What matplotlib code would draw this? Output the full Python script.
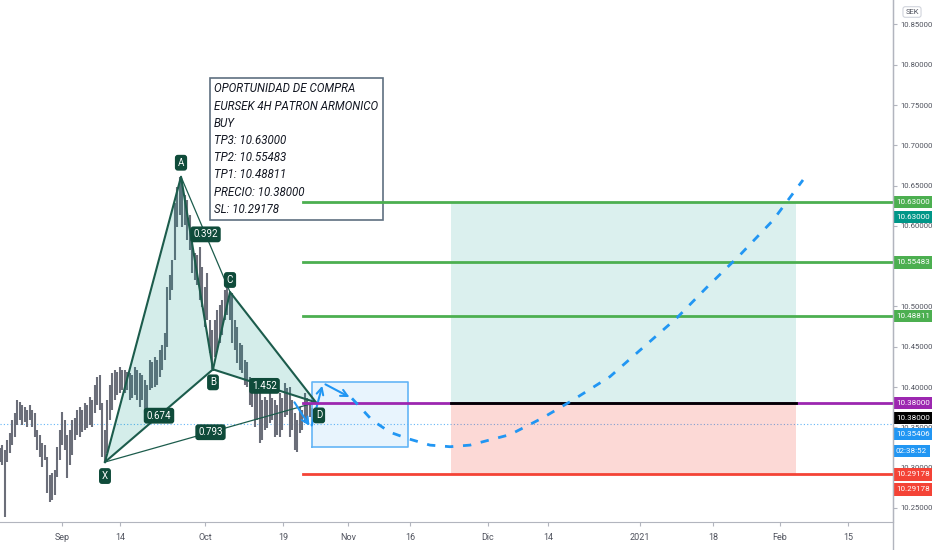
import matplotlib.pyplot as plt
import numpy as np

# EURSEK 4H - velas (maximos y minimos)
bar_hi = [10.324, 10.328, 10.322, 10.334, 10.343, 10.359, 10.368, 10.384, 10.382, 10.378,
          10.375, 10.372, 10.378, 10.372, 10.368, 10.347, 10.341, 10.331, 10.328, 10.313,
          10.291, 10.293, 10.297, 10.326, 10.347, 10.369, 10.359, 10.341, 10.347, 10.359,
          10.362, 10.372, 10.375, 10.372, 10.380, 10.378, 10.388, 10.384, 10.403, 10.413,
          10.415, 10.380, 10.347, 10.384, 10.403, 10.417, 10.421, 10.419, 10.425, 10.421,
          10.421, 10.419, 10.417, 10.415, 10.425, 10.421, 10.417, 10.415, 10.409, 10.403,
          10.434, 10.431, 10.437, 10.434, 10.446, 10.452, 10.467, 10.524, 10.539, 10.558,
          10.628, 10.648, 10.661, 10.657, 10.638, 10.632, 10.614, 10.591, 10.566, 10.564,
          10.574, 10.549, 10.524, 10.542, 10.483, 10.471, 10.483, 10.496, 10.502, 10.508,
          10.520, 10.524, 10.518, 10.517, 10.483, 10.475, 10.455, 10.452, 10.434, 10.431,
          10.413, 10.409, 10.400, 10.396, 10.393, 10.384, 10.388, 10.384, 10.393, 10.386,
          10.384, 10.378, 10.393, 10.386, 10.405, 10.399, 10.400, 10.384, 10.368, 10.359,
          10.375, 10.372, 10.393, 10.386, 10.380, 10.374]
bar_lo = [10.307, 10.303, 10.239, 10.307, 10.318, 10.328, 10.338, 10.353, 10.359, 10.353,
          10.357, 10.350, 10.359, 10.350, 10.338, 10.322, 10.313, 10.301, 10.310, 10.269,
          10.257, 10.260, 10.266, 10.288, 10.310, 10.328, 10.322, 10.287, 10.303, 10.316,
          10.334, 10.341, 10.338, 10.344, 10.347, 10.349, 10.353, 10.350, 10.368, 10.378,
          10.372, 10.313, 10.307, 10.318, 10.359, 10.372, 10.384, 10.390, 10.393, 10.396,
          10.393, 10.396, 10.384, 10.386, 10.390, 10.384, 10.375, 10.384, 10.368, 10.355,
          10.396, 10.399, 10.400, 10.403, 10.413, 10.421, 10.434, 10.450, 10.508, 10.520,
          10.558, 10.599, 10.614, 10.599, 10.601, 10.583, 10.570, 10.542, 10.533, 10.527,
          10.508, 10.499, 10.475, 10.483, 10.442, 10.422, 10.437, 10.446, 10.455, 10.465,
          10.483, 10.489, 10.483, 10.455, 10.446, 10.430, 10.421, 10.417, 10.403, 10.400,
          10.378, 10.375, 10.350, 10.359, 10.331, 10.334, 10.347, 10.349, 10.355, 10.359,
          10.338, 10.341, 10.338, 10.347, 10.363, 10.365, 10.338, 10.347, 10.322, 10.319,
          10.343, 10.347, 10.355, 10.359, 10.363, 10.354]
bar_start = -13.2   # dias desde 1 sep
bar_step = 0.531

# patron armonico XABCD
pat_names = ['X', 'A', 'B', 'C', 'D']
pat_days = [9.13, 25.27, 32.06, 35.67, 53.93]
pat_prices = [10.307, 10.661, 10.422, 10.518, 10.381]
ratios = {('A', 'C'): '0.392', ('X', 'B'): '0.674', ('B', 'D'): '1.452', ('X', 'D'): '0.793'}

# niveles
tp3 = 10.63000
tp2 = 10.55483
tp1 = 10.48811
precio = 10.38000
sl = 10.29178
last_price = 10.35406
countdown = '02:38:52'

# posicion larga y rectangulo azul
pos_start, pos_end = 82.6, 155.8
rect_days = [53.1, 73.5]
rect_prices = [10.3257, 10.4063]

# trayectoria proyectada
arrow_days = [49.04, 52.87, 55.41, 61.57]
arrow_prices = [10.384, 10.349, 10.405, 10.386]
curve_days = [61.57, 65.82, 69.64, 73.46, 78.13, 82.38, 86.62, 95.12, 102.12, 108.49,
              116.35, 123.35, 130.57, 136.94, 143.95, 150.96, 157.32]
curve_prices = [10.386, 10.359, 10.344, 10.336, 10.328, 10.326, 10.328, 10.341, 10.362, 10.384,
                10.413, 10.449, 10.486, 10.524, 10.564, 10.607, 10.657]

xtick_pos = [0, 12.3, 30.4, 46.9, 60.7, 73.9, 90.4, 103.2, 122.7, 138.2, 152.4, 166.9]
xtick_lab = ['Sep', '14', 'Oct', '19', 'Nov', '16', 'Dic', '14', '2021', '18', 'Feb', '15']
yticks = [10.25, 10.30, 10.35, 10.40, 10.45, 10.50, 10.55, 10.60, 10.65, 10.70, 10.75, 10.80, 10.85]

texto = ("OPORTUNIDAD DE COMPRA\nEURSEK 4H PATRON ARMONICO\nBUY\n"
         "TP3: 10.63000\nTP2: 10.55483\nTP1: 10.48811\nPRECIO: 10.38000\nSL: 10.29178")

plt.rcParams['font.family'] = ['Roboto', 'DejaVu Sans']

fig = plt.figure(figsize=(9.32, 5.5), dpi=100)
ax = fig.add_axes([0, 28 / 550, 893 / 932, 522 / 550])
ax.set_xlim(-13.16, 176.43)
ax.set_ylim(10.2326, 10.8803)

gray = '#b2b5be'
for s in ['top', 'left']:
    ax.spines[s].set_visible(False)
ax.spines['bottom'].set_color(gray)
ax.spines['right'].set_color(gray)
fig.add_artist(plt.Line2D([893 / 932, 893 / 932], [0, 1], color=gray, lw=1))

ax.yaxis.tick_right()
ax.set_yticks(yticks)
ax.set_yticklabels(['%.5f' % v for v in yticks])
ax.tick_params(axis='y', labelsize=5.6, colors='#50535e', length=3, color=gray, pad=2)
ax.set_xticks(xtick_pos)
ax.set_xticklabels(xtick_lab)
ax.tick_params(axis='x', labelsize=6.5, colors='#50535e', length=3, color=gray, pad=5)

# velas
bar_days = bar_start + bar_step * np.arange(len(bar_hi))
ax.vlines(bar_days, bar_lo, bar_hi, color='#6b6e79', lw=1.5, zorder=2)

# ultima cotizacion
ax.axhline(last_price, color='#2196f3', lw=0.8, ls=(0, (1, 2)), alpha=0.7, zorder=1)

# patron
pts = dict(zip(pat_names, zip(pat_days, pat_prices)))
edge = '#1c5c4c'
for tri in [('X', 'A', 'B'), ('B', 'C', 'D')]:
    xs = [pts[n][0] for n in tri]
    ys = [pts[n][1] for n in tri]
    ax.fill(xs, ys, color='#009688', alpha=0.17, lw=0, zorder=3)
    ax.plot(xs + [xs[0]], ys + [ys[0]], color=edge, lw=1.5, zorder=4)
for (a, b), r in ratios.items():
    if (a, b) in [('A', 'C'), ('X', 'D')]:
        ax.plot([pts[a][0], pts[b][0]], [pts[a][1], pts[b][1]], color=edge, lw=0.9, zorder=4)
    mx = (pts[a][0] + pts[b][0]) / 2
    my = (pts[a][1] + pts[b][1]) / 2
    ax.text(mx, my, r, color='white', fontsize=7, ha='center', va='center', zorder=8,
            bbox=dict(boxstyle='round,pad=0.3', fc='#0f4b3a', ec='none'))
offs = {'X': (0, -14), 'A': (0, 14), 'B': (0, -13), 'C': (0, 12), 'D': (3, -13)}
for n in pat_names:
    ax.annotate(n, xy=pts[n], xytext=offs[n], textcoords='offset pixels', color='white',
                fontsize=7, ha='center', va='center', zorder=8,
                bbox=dict(boxstyle='round,pad=0.3', fc='#0f4b3a', ec='none'))

# cuadro de texto
ax.text(32.3, 10.778, texto, style='italic', fontsize=8.3, color='#131722', va='top', ha='left',
        linespacing=1.42, zorder=7,
        bbox=dict(boxstyle='square,pad=0.4', fc='white', ec='#5f7080', lw=1.2))

# niveles horizontales (por encima del cuadro de texto)
lvl_start = 51.17
for lv, c in [(tp3, '#4caf50'), (tp2, '#4caf50'), (tp1, '#4caf50'), (precio, '#9c27b0'), (sl, '#f44336')]:
    ax.plot([lvl_start, 176.43], [lv, lv], color=c, lw=2, zorder=7.5)

# herramienta de posicion larga
ax.fill_between([pos_start, pos_end], precio, tp3, color='#009688', alpha=0.14, lw=0, zorder=1)
ax.fill_between([pos_start, pos_end], sl, precio, color='#f44336', alpha=0.2, lw=0, zorder=1)
ax.plot([pos_start, pos_end], [precio, precio], color='black', lw=2, zorder=7.6)

# rectangulo azul
ax.fill_between(rect_days, rect_prices[0], rect_prices[1], fc='#2196f3', alpha=0.1, lw=0, zorder=2)
ax.plot([rect_days[0], rect_days[1], rect_days[1], rect_days[0], rect_days[0]],
        [rect_prices[0], rect_prices[0], rect_prices[1], rect_prices[1], rect_prices[0]],
        color='#64b5f6', lw=1.2, zorder=3)

# flechas y curva proyectada
blue = '#2196f3'
for i in range(len(arrow_days) - 1):
    ax.annotate('', xy=(arrow_days[i + 1], arrow_prices[i + 1]), xytext=(arrow_days[i], arrow_prices[i]),
                arrowprops=dict(arrowstyle='->', color=blue, lw=1.5, mutation_scale=12), zorder=6)
ax.plot(curve_days, curve_prices, color=blue, lw=2, ls=(0, (3, 3.5)), zorder=7.7)

# etiquetas de la escala de precios
tags = [(tp3, 0, '#4caf50', '10.63000'), (tp3, -15, '#009688', '10.63000'),
        (tp2, 0, '#4caf50', '10.55483'), (tp1, 0, '#4caf50', '10.48811'),
        (precio, 0, '#9c27b0', '10.38000'), (precio, -15, '#000000', '10.38000'),
        (last_price, -10, '#2196f3', '10.35406'), (last_price, -27, '#2196f3', countdown),
        (sl, 0, '#f44336', '10.29178'), (sl, -15, '#f44336', '10.29178')]
for p, dy, c, t in tags:
    ax.annotate(t, xy=(1.0, p), xycoords=('axes fraction', 'data'), xytext=(3, dy),
                textcoords='offset pixels', color='white', fontsize=5.8, ha='left', va='center',
                annotation_clip=False, zorder=10,
                bbox=dict(boxstyle='square,pad=0.4', fc=c, ec='none'))

fig.text(912 / 932, 1 - 12 / 550, 'SEK', fontsize=5.5, color='#50535e', ha='center', va='center',
         bbox=dict(boxstyle='round,pad=0.3', fc='white', ec='#d1d4dc', lw=0.8))

fig.savefig('out.png', dpi=100)
